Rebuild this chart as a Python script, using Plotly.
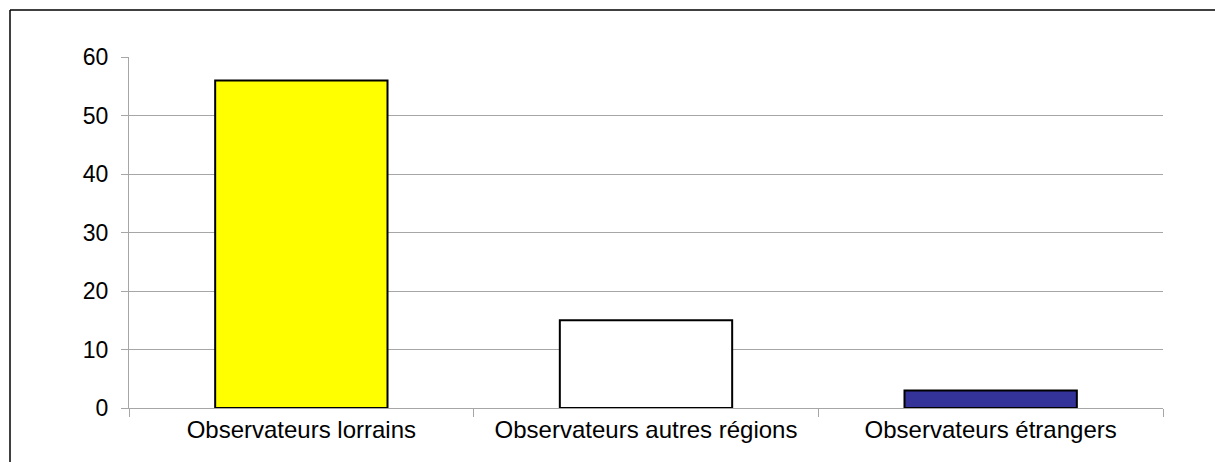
import plotly.graph_objects as go

categories = ["Observateurs lorrains", "Observateurs autres régions", "Observateurs étrangers"]
values = [56, 15, 3]
colors = ["#FFFF00", "#FFFFFF", "#333399"]
y_ticks = [0, 10, 20, 30, 40, 50, 60]

W, H = 1215, 462
L, R, T, B = 129, 52, 57, 54
pw, ph = W - L - R, H - T - B

fig = go.Figure(go.Bar(
    x=categories, y=values, width=0.5,
    marker=dict(color=colors, line=dict(color="black", width=2)),
))

grid = "#a6a6a6"
fx0 = (10 - L) / pw
fy1 = 1 + (T - 10) / ph
frame = dict(line=dict(color="black", width=1.5), xref="paper", yref="paper", layer="above", type="line")
fig.update_layout(
    width=W, height=H,
    margin=dict(l=L, r=R, t=T, b=B, pad=0),
    paper_bgcolor="white", plot_bgcolor="white",
    showlegend=False,
    font=dict(family="Liberation Sans, Arial, sans-serif", size=23, color="black"),
    xaxis=dict(
        showline=True, linecolor=grid, linewidth=1,
        ticks="outside", tickson="boundaries", ticklen=8, tickcolor=grid,
        showgrid=False, tickfont=dict(size=24),
    ),
    yaxis=dict(
        range=[0, 60], tickvals=y_ticks,
        showline=True, linecolor=grid, linewidth=1,
        ticks="outside", ticklen=7, tickcolor=grid,
        showgrid=True, gridcolor=grid, gridwidth=1,
        zeroline=False, ticklabelstandoff=8, tickfont=dict(size=23),
    ),
    shapes=[
        dict(frame, x0=fx0, x1=1 + R / pw, y0=fy1, y1=fy1),
        dict(frame, x0=fx0, x1=fx0, y0=-B / ph, y1=fy1),
    ],
)

fig.write_html(
    "out.html",
    config={"displayModeBar": False},
    post_script="document.body.style.margin='0';document.body.style.padding='0';document.body.style.overflow='hidden';",
)
